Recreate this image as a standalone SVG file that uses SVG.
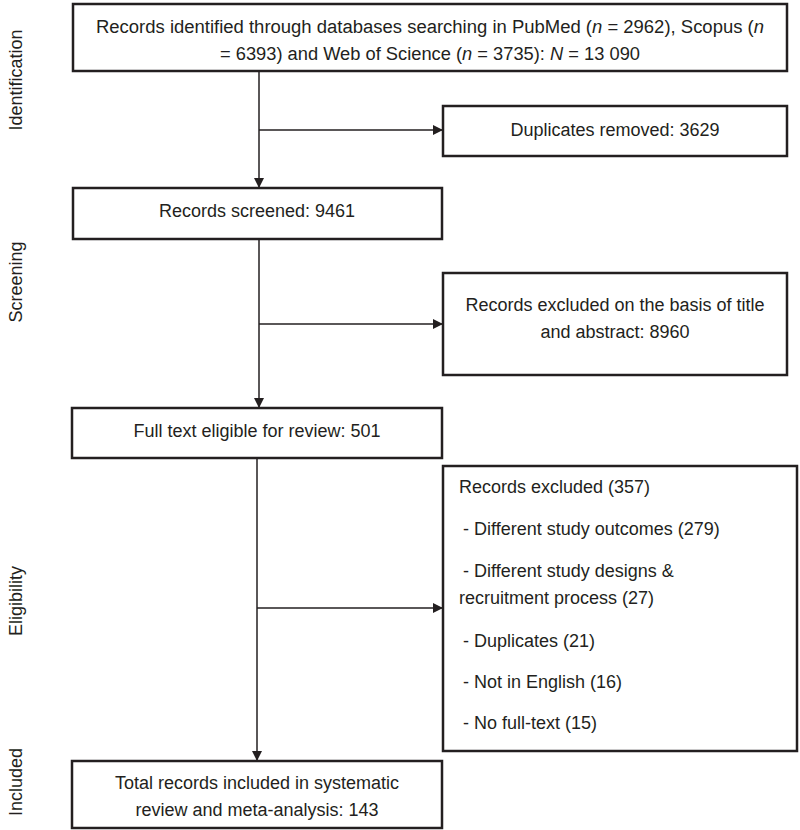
<svg xmlns="http://www.w3.org/2000/svg" width="800" height="830" viewBox="0 0 800 830">
<style>
.box{fill:#fff;stroke:#231f20;stroke-width:2.5}
.t{font-family:"Liberation Sans",Arial,sans-serif;font-size:18px;fill:#231f20}
.c{text-anchor:middle}
.ln{stroke:#231f20;stroke-width:1.5;fill:none}
.i{font-style:italic}
</style>
<defs>
<marker id="ah" viewBox="0 0 10 10" refX="10" refY="5" markerWidth="10" markerHeight="10" markerUnits="userSpaceOnUse" orient="auto">
<path d="M0,0 L10,5 L0,10 Z" fill="#231f20"/>
</marker>
</defs>
<rect width="800" height="830" fill="#fff"/>
<g id="stages">
<text class="t c" transform="translate(22,80) rotate(-90)">Identification</text>
<text class="t c" transform="translate(22,282) rotate(-90)">Screening</text>
<text class="t c" transform="translate(22,601) rotate(-90)">Eligibility</text>
<text class="t c" transform="translate(22,782) rotate(-90)">Included</text>
</g>
<g id="connectors">
<line class="ln" x1="259" y1="71" x2="259" y2="188" marker-end="url(#ah)"/>
<line class="ln" x1="259" y1="130" x2="443" y2="130" marker-end="url(#ah)"/>
<line class="ln" x1="259" y1="239" x2="259" y2="408" marker-end="url(#ah)"/>
<line class="ln" x1="259" y1="324" x2="443" y2="324" marker-end="url(#ah)"/>
<line class="ln" x1="257" y1="458" x2="257" y2="761" marker-end="url(#ah)"/>
<line class="ln" x1="257" y1="608" x2="443" y2="608" marker-end="url(#ah)"/>
</g>
<g id="n1">
<rect class="box" x="73" y="4" width="714" height="67"/>
<text class="t c" x="430" y="33" textLength="668" lengthAdjust="spacingAndGlyphs">Records identified through databases searching in PubMed (<tspan class="i">n</tspan> = 2962), Scopus (<tspan class="i">n</tspan></text>
<text class="t c" x="430" y="60" textLength="420" lengthAdjust="spacingAndGlyphs">= 6393) and Web of Science (<tspan class="i">n</tspan> = 3735): <tspan class="i">N</tspan> = 13 090</text>
</g>
<g id="n2">
<rect class="box" x="443" y="106" width="344" height="50"/>
<text class="t c" x="615" y="136">Duplicates removed: 3629</text>
</g>
<g id="n3">
<rect class="box" x="73" y="188" width="369" height="51"/>
<text class="t c" x="257" y="217">Records screened: 9461</text>
</g>
<g id="n4">
<rect class="box" x="443" y="273" width="344" height="102"/>
<text class="t c" x="615" y="311">Records excluded on the basis of title</text>
<text class="t c" x="615" y="338">and abstract: 8960</text>
</g>
<g id="n5">
<rect class="box" x="72" y="408" width="370" height="50"/>
<text class="t c" x="257" y="437">Full text eligible for review: 501</text>
</g>
<g id="n6">
<rect class="box" x="443" y="466" width="354" height="285"/>
<text class="t" x="459" y="493">Records excluded (357)</text>
<text class="t" x="463" y="535">- Different study outcomes (279)</text>
<text class="t" x="463" y="577">-  Different study designs &amp;</text>
<text class="t" x="459" y="604">recruitment process (27)</text>
<text class="t" x="463" y="647">- Duplicates (21)</text>
<text class="t" x="463" y="688">- Not in English (16)</text>
<text class="t" x="463" y="729">- No full-text (15)</text>
</g>
<g id="n7">
<rect class="box" x="72" y="761" width="370" height="67"/>
<text class="t c" x="257" y="789">Total records included in systematic</text>
<text class="t c" x="257" y="816">review and meta-analysis: 143</text>
</g>
</svg>
